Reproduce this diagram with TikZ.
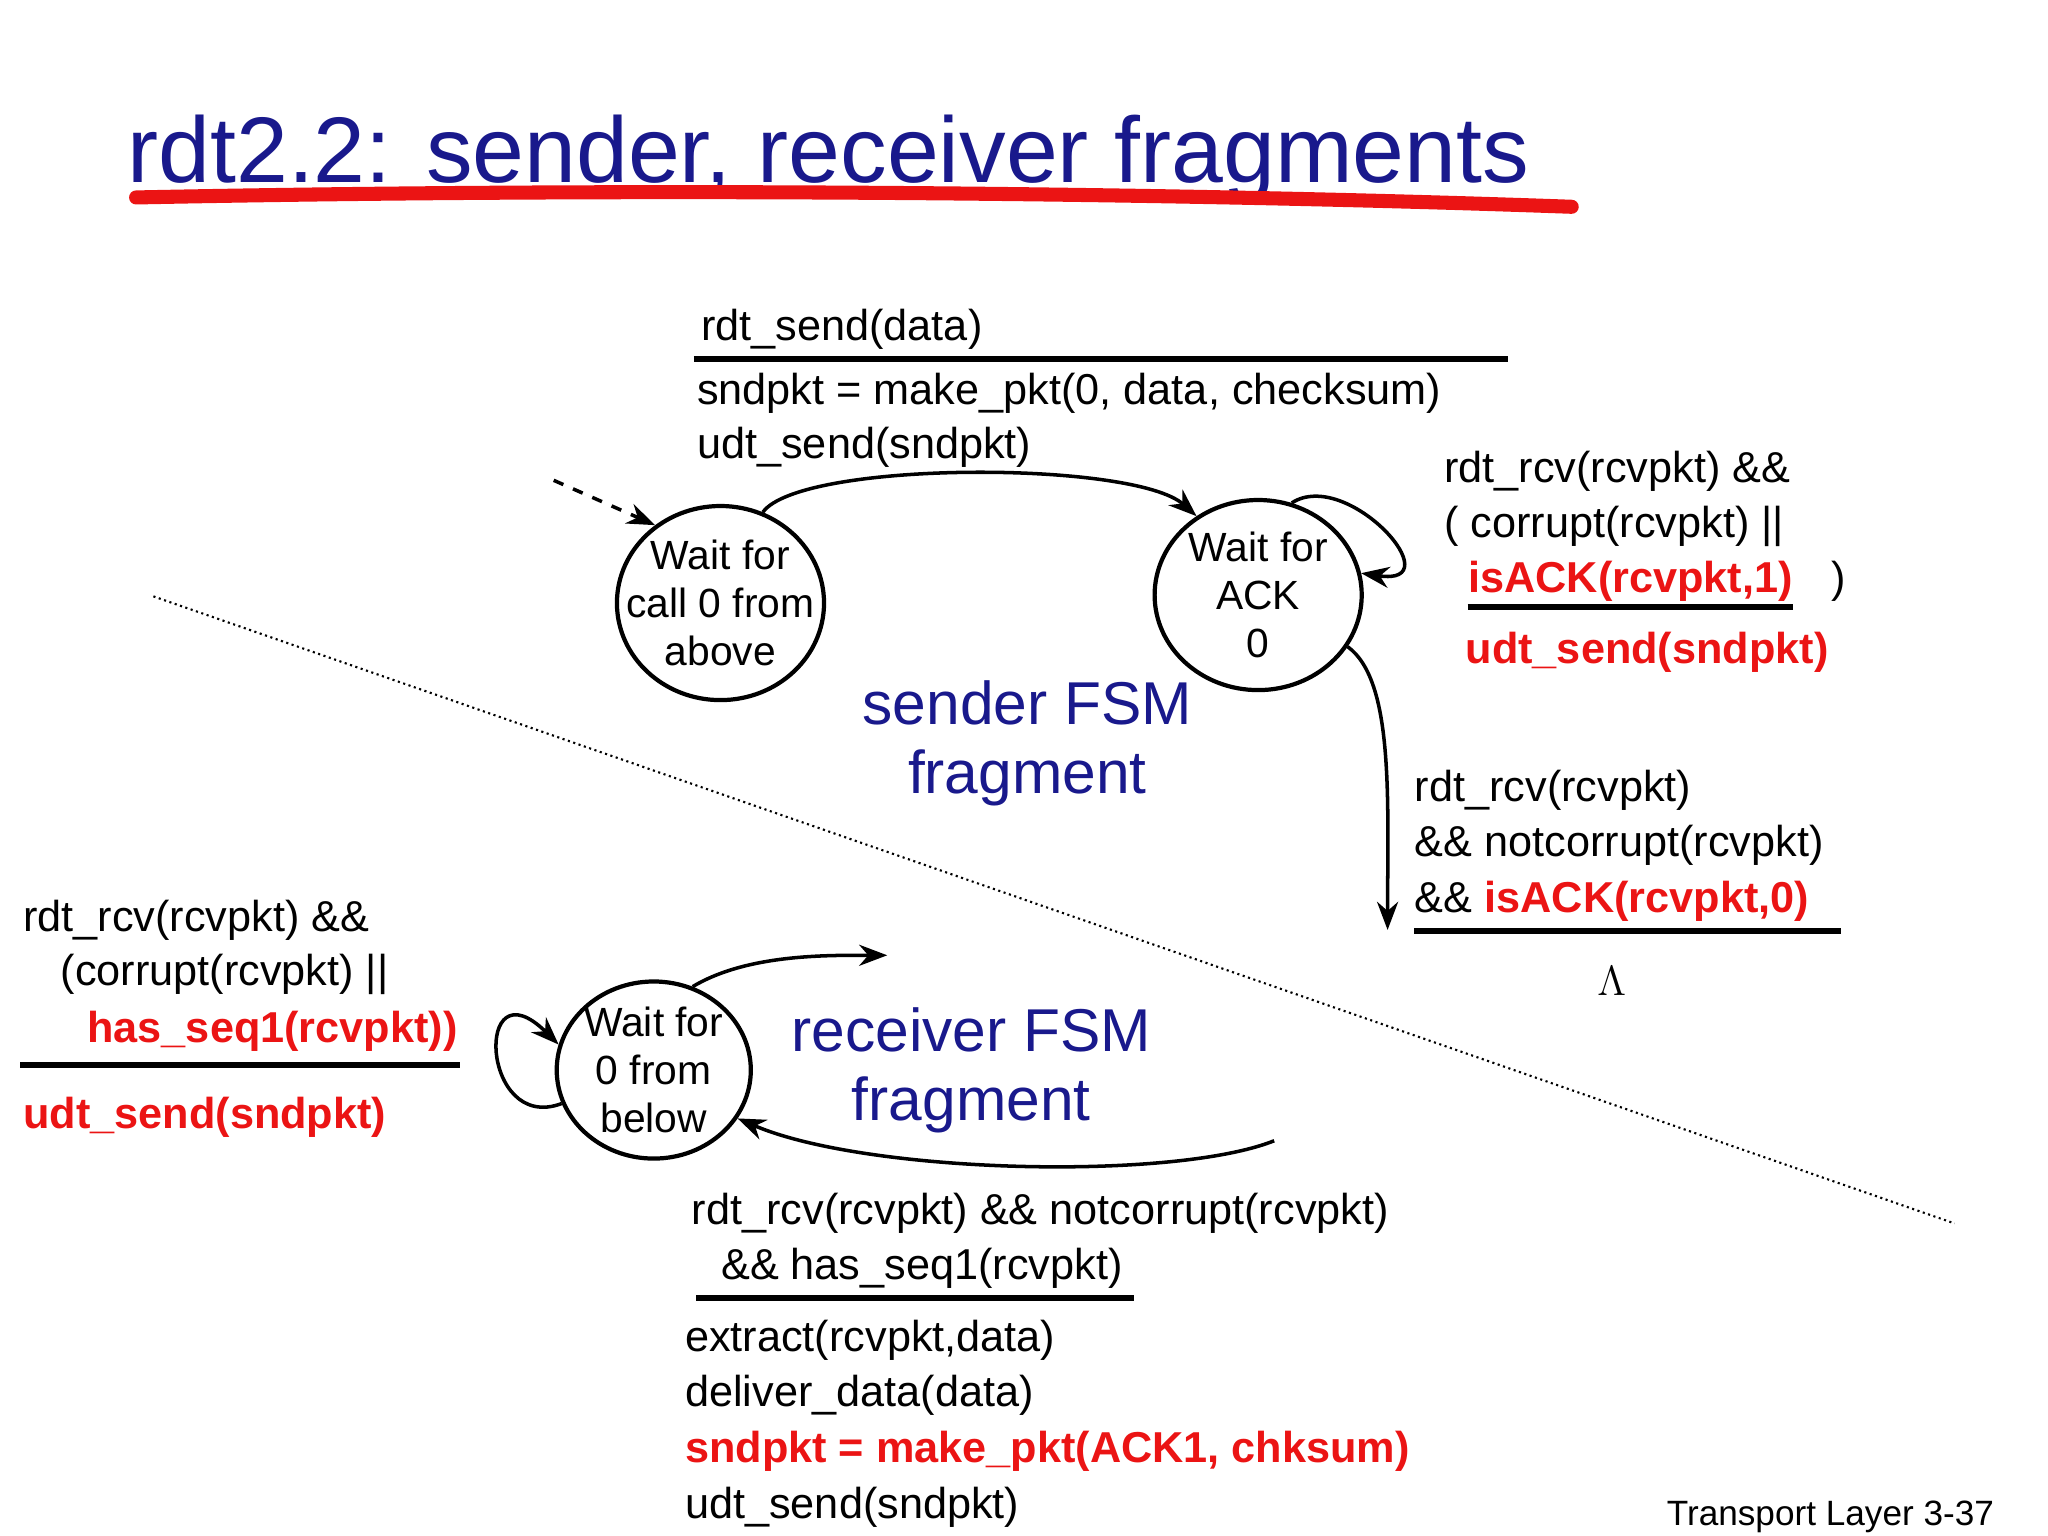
\documentclass[tikz,border=0pt]{standalone}
\usepackage{fontspec}
\setmainfont{Liberation Sans}
\usetikzlibrary{shapes.geometric,arrows.meta}
\definecolor{navy}{RGB}{25,25,140}
\definecolor{rd}{RGB}{235,20,20}
\begin{document}
\begin{tikzpicture}[x=0.013342cm,y=-0.013342cm,
  txt/.style={anchor=base west,inner sep=0pt,font=\fontsize{12.3}{15}\selectfont},
  red/.style={txt,text=rd,font=\fontsize{12.3}{15}\selectfont\bfseries},
  st/.style={draw,line width=1.2pt,ellipse,align=center,font=\fontsize{11.6}{13.6}\selectfont,inner xsep=-7pt,inner ysep=-3pt},
  rule/.style={line width=1.8pt},
  arr/.style={line width=1pt,-{Stealth[length=8pt,width=6pt]}},
  big/.style={anchor=base,text=navy,align=center,font=\fontsize{17.2}{20}\selectfont}]
\useasboundingbox (0,0) rectangle (1535,1151);
\node[anchor=base west,inner sep=0pt,text=navy,font=\fontsize{26.5}{30}\selectfont] (title) at (95,137) {rdt2.2: sender, receiver fragments};
\draw[rd,line width=4pt,line cap=round] (102,148) .. controls (500,140) and (900,145) .. (1178,155);
\draw[densely dotted,line width=0.6pt] (115,447) -- (1465,917);
% states
\node[st,minimum width=2.07cm,minimum height=1.94cm] (s0) at (540,452) {Wait for\\call 0 from\\above};
\node[st,minimum width=2.07cm,minimum height=1.9cm] (s1) at (943,446) {Wait for\\ACK\\0};
\node[st,minimum width=1.94cm,minimum height=1.77cm] (r0) at (490,802) {Wait for\\0 from\\below};
\node[big] (sf) at (770,543) {sender FSM};
\node[big] (sf2) at (770,595) {fragment};
\node[big] (rf) at (728,788) {receiver FSM};
\node[big] (rf2) at (728,840) {fragment};
% sender texts
\node[txt] (t1) at (525,255) {rdt\_send(data)};
\draw[rule] (520,269) -- (1130,269);
\node[txt] (t2) at (522,303) {sndpkt = make\_pkt(0, data, checksum)};
\node[txt] (t3) at (522,344) {udt\_send(sndpkt)};
\node[txt] (t4) at (1082,362) {rdt\_rcv(rcvpkt) \&\&};
\node[txt] (t5) at (1082,403) {( corrupt(rcvpkt) ||};
\node[red] (t6) at (1100,444) {isACK(rcvpkt,1)};
\node[txt] (t6b) at (1372,444) {)};
\draw[rule] (1100,455) -- (1344,455);
\node[red] (t7) at (1098,497) {udt\_send(sndpkt)};
\node[txt] (t8) at (1060,601) {rdt\_rcv(rcvpkt)};
\node[txt] (t9) at (1060,642) {\&\& notcorrupt(rcvpkt)};
\node[txt] (t10) at (1060,684) {\&\& \textcolor{rd}{\bfseries isACK(rcvpkt,0)}};
\draw[rule] (1060,698) -- (1380,698);
\node[anchor=base,font=\fontsize{12}{14}\selectfont] (lam) at (1208,746) {$\Lambda$};
% receiver texts
\node[txt] (u1) at (17,698) {rdt\_rcv(rcvpkt) \&\&};
\node[txt] (u2) at (45,739) {(corrupt(rcvpkt) ||};
\node[red] (u3) at (65,781) {has\_seq1(rcvpkt))};
\draw[rule] (15,798) -- (345,798);
\node[red] (u4) at (17,846) {udt\_send(sndpkt)};
\node[txt] (v1) at (518,918) {rdt\_rcv(rcvpkt) \&\& notcorrupt(rcvpkt)};
\node[txt] (v2) at (540,959) {\&\& has\_seq1(rcvpkt)};
\draw[rule] (522,973) -- (850,973);
\node[txt] (v3) at (513,1013) {extract(rcvpkt,data)};
\node[txt] (v4) at (513,1054) {deliver\_data(data)};
\node[red] (v5) at (513,1096) {sndpkt = make\_pkt(ACK1, chksum)};
\node[txt] (v6) at (513,1138) {udt\_send(sndpkt)};
\node[anchor=base east,inner sep=0pt,font=\fontsize{10}{12}\selectfont] (foot) at (1495,1143) {Transport Layer 3-37};
% arrows
\coordinate (i0) at (415,360);
\draw[arr,dashed] (i0) -- (s0.130);
\draw[arr] (s0.65) .. controls (600,345) and (850,345) .. (s1.128);
\draw[arr] (s1.70) .. controls (1010,350) and (1090,440) .. (s1.12);
\coordinate (d1) at (1040,697);
\draw[arr] (s1.-30) .. controls (1045,510) and (1040,600) .. (d1);
\draw[arr] (r0.-160) .. controls (360,850) and (355,720) .. (r0.165);
\coordinate (r1) at (665,716);
\draw[arr] (r0.65) .. controls (560,715) and (620,716) .. (r1);
\coordinate (r2) at (955,855);
\draw[arr] (r2) .. controls (880,885) and (650,880) .. (r0.-30);
\end{tikzpicture}
\end{document}
